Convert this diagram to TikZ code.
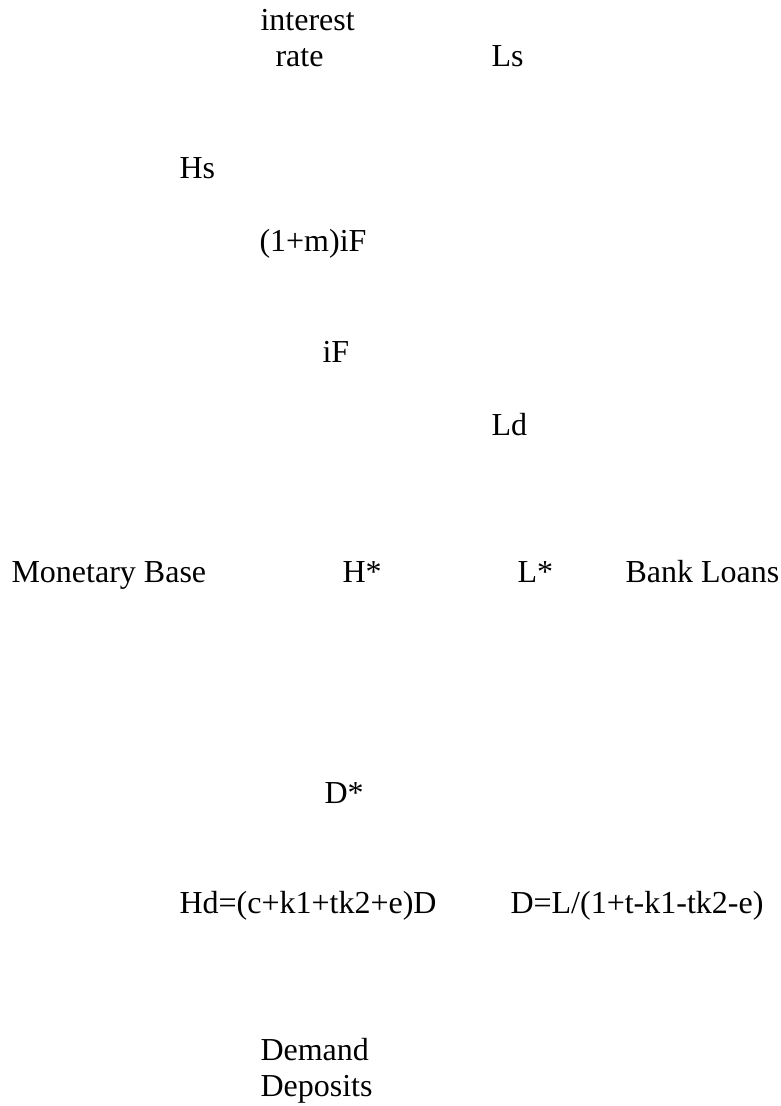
\documentclass[tikz,border=0pt]{standalone}
\usepackage{fontspec}
\setmainfont{Liberation Serif}
\usepackage{tikz}
\usetikzlibrary{positioning}

\begin{document}
\begin{tikzpicture}[x=0.375pt,y=-0.375pt,lbl/.style={anchor=base west,inner sep=0pt,font=\fontsize{12}{14}\selectfont}]
 \useasboundingbox (0,0) rectangle (781,1106);
 \node[lbl] (interest) at (260,30) {interest};
 \node[lbl] (rate) at (275,67) {rate};
 \node[lbl] (Ls) at (491,67) {Ls};
 \node[lbl] (Hs) at (179,178) {Hs};
 \node[lbl] (iFm) at (259,251) {(1+m)iF};
 \node[lbl] (iF) at (322,362) {iF};
 \node[lbl] (Ld) at (491,435) {Ld};
 \node[lbl] (base) at (11,582) {Monetary Base};
 \node[lbl] (Hstar) at (342,582) {H*};
 \node[lbl] (Lstar) at (517,582) {L*};
 \node[lbl] (loans) at (625,582) {Bank Loans};
 \node[lbl] (Dstar) at (324,803) {D*};
 \node[lbl] (Hd) at (179,913) {Hd=(c+k1+tk2+e)D};
 \node[lbl] (Deq) at (510,913) {D=L/(1+t-k1-tk2-e)};
 \node[lbl] (demand) at (260,1060) {Demand};
 \node[lbl] (deposits) at (260,1096) {Deposits};
\end{tikzpicture}
\end{document}
